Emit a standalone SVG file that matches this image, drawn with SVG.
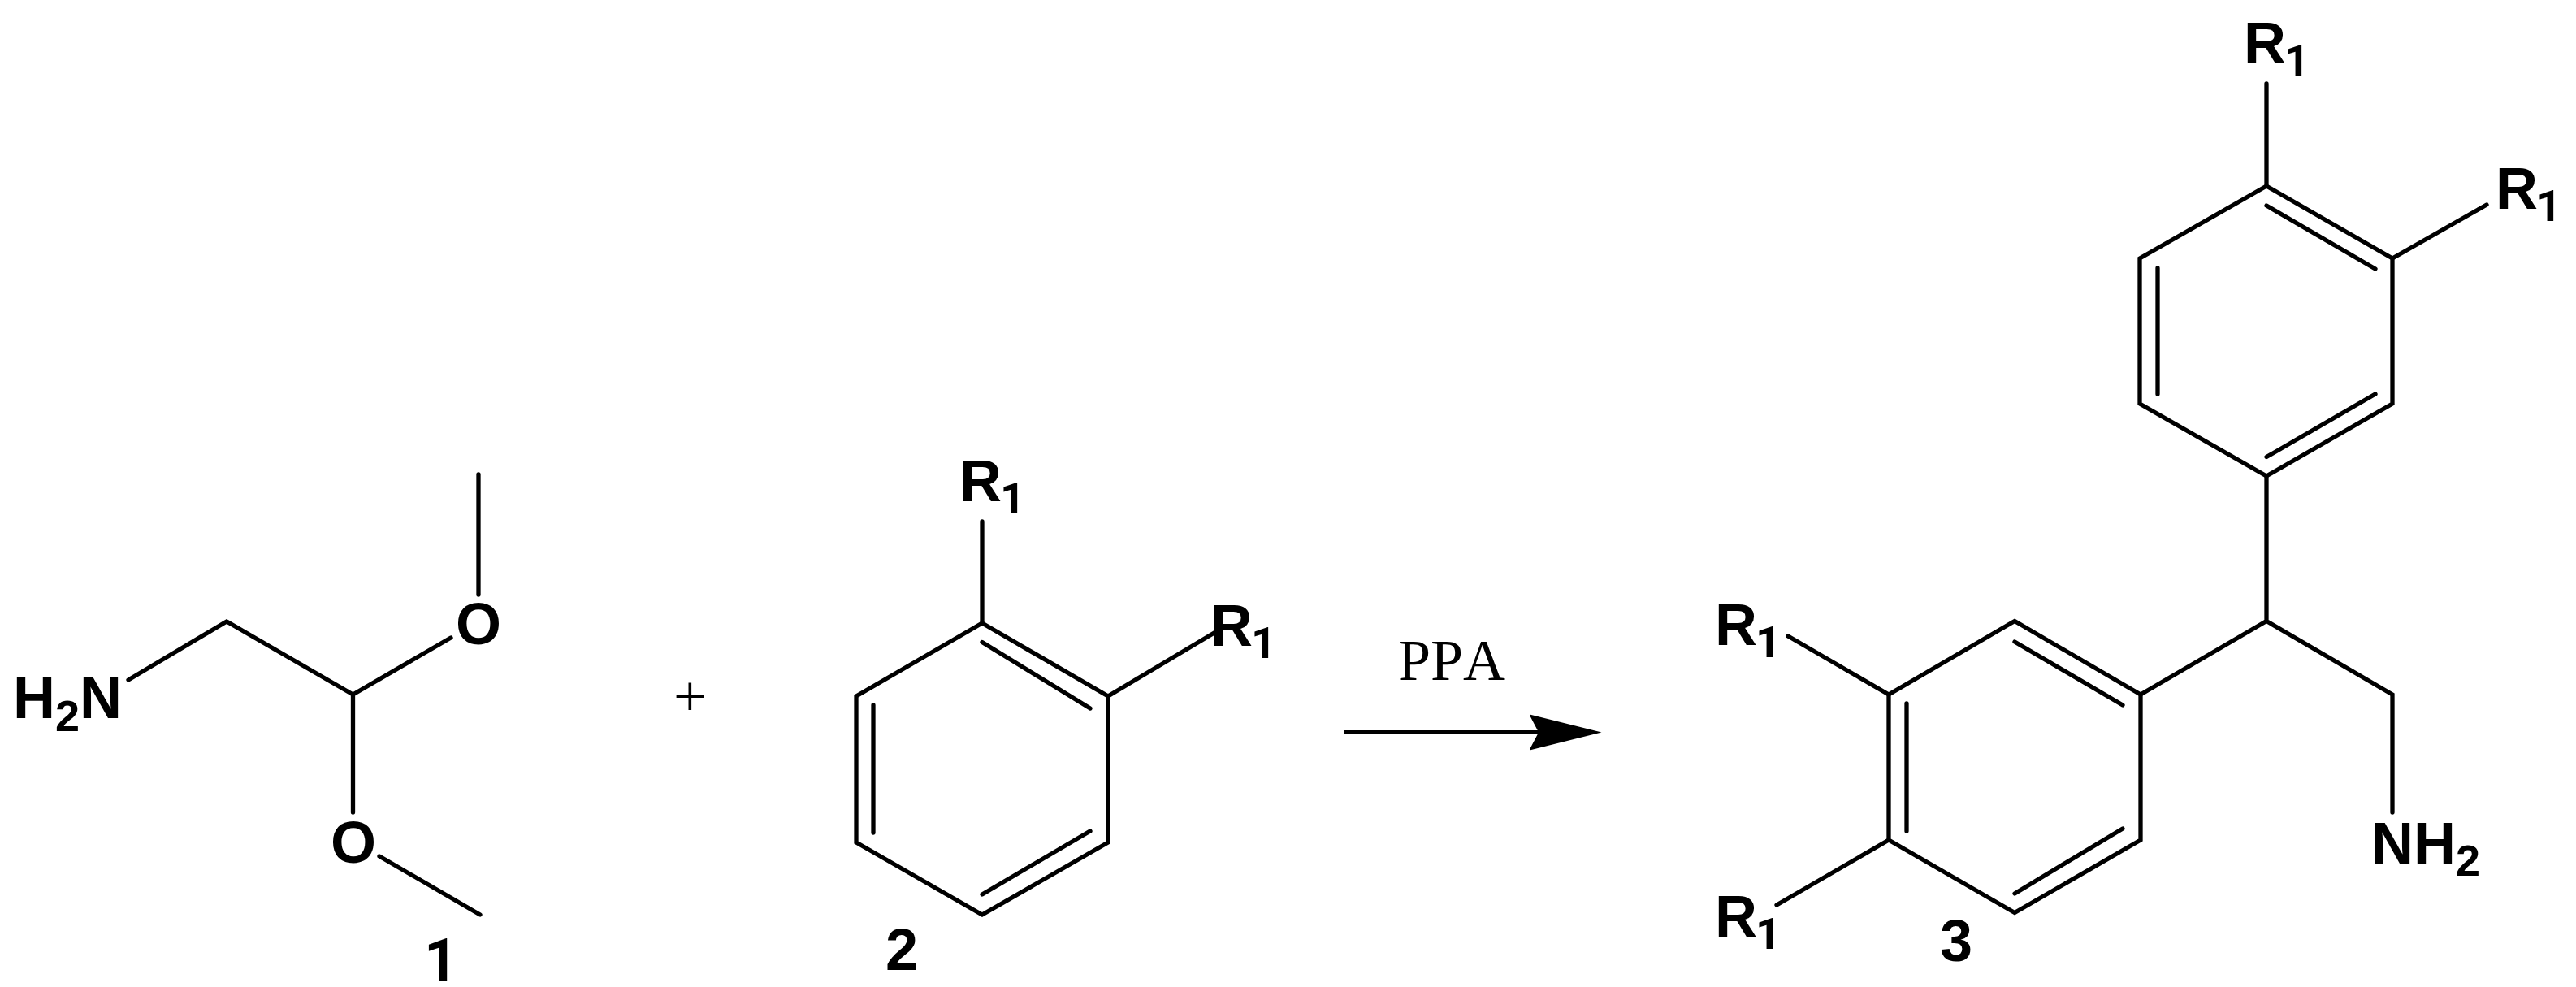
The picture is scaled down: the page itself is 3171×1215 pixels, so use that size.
<svg xmlns="http://www.w3.org/2000/svg" width="3171" height="1215" viewBox="0 0 3171 1215">
<style>
.b{fill:none;stroke:#000;stroke-width:5.300;stroke-linecap:round;stroke-linejoin:miter}
.a{font-family:"Liberation Sans",Arial,sans-serif;font-weight:700;font-size:72px;fill:#000}
.s{font-size:54px}
.o{font-family:Roboto,"Liberation Sans",sans-serif;font-weight:700}
.t{font-family:"Liberation Serif","Times New Roman",serif;font-size:72px;fill:#000;font-kerning:none}
</style>
<defs>
<marker id="head" markerUnits="userSpaceOnUse" markerWidth="92" markerHeight="48" refX="11.500" refY="23" orient="auto" viewBox="0 0 92 48">
<path d="M0 1L89 23L0 45L11.500 23Z" fill="#000"/>
</marker>
</defs>
<rect width="3171" height="1215" fill="#fff"/>
<g id="compound-1">
<path class="b" d="M158 837L279 765L434.500 855L555 785M589 584V732M434.500 855V1000M467 1054L591 1126"/>
<text class="a" x="16" y="884">H<tspan class="s" dy="16">2</tspan><tspan dy="-16">N</tspan></text>
<text class="a" x="561" y="793">O</text>
<text class="a" x="407" y="1062">O</text>
<text class="a o" x="522" y="1207">1</text>
</g>
<text id="plus" class="t" x="829" y="881">+</text>
<g id="compound-2">
<polygon class="b" points="1209,767 1364,857 1364,1037 1209,1126 1054,1037 1054,857"/>
<path class="b" d="M1209 790.500L1342 872M1075 868V1025M1209 1101L1342 1023M1209 642V767M1364 857L1498 777"/>
<text class="a" x="1181" y="617">R<tspan class="s o" dy="15" dx="-2">1</tspan></text>
<text class="a" x="1490" y="795">R<tspan class="s o" dy="15" dx="-2">1</tspan></text>
<text class="a" x="1090" y="1194">2</text>
</g>
<g id="connectors">
<line x1="1654" y1="901.500" x2="1894" y2="901.500" stroke="#000" stroke-width="5" marker-end="url(#head)"/>
</g>
<text id="reagent" class="t" x="1721" y="837">PPA</text>
<g id="compound-3">
<polygon class="b" points="2480,764.500 2635,855 2635,1034 2480,1123.500 2325,1034 2325,855"/>
<path class="b" d="M2480 790L2613 868M2347 866V1023M2480 1100L2613 1020M2635 855L2790 764.500L2945 855V1000M2790 764.500V586M2325 855L2201 783M2325 1034L2187 1114"/>
<polygon class="b" points="2790,229 2945,318 2945,497 2790,586 2634,497 2634,318"/>
<path class="b" d="M2790 253L2924 331M2656 330V485M2790 562.500L2924 485M2790 103V229M2945 318L3061 252"/>
<text class="a" x="2762" y="78">R<tspan class="s o" dy="15" dx="-2">1</tspan></text>
<text class="a" x="3072" y="257">R<tspan class="s o" dy="15" dx="-2">1</tspan></text>
<text class="a" x="2111" y="794">R<tspan class="s o" dy="15" dx="-2">1</tspan></text>
<text class="a" x="2111" y="1152.500">R<tspan class="s o" dy="15" dx="-2">1</tspan></text>
<text class="a" x="2919" y="1063">NH<tspan class="s" dy="15">2</tspan></text>
<text class="a" x="2388" y="1183">3</text>
</g>
</svg>
